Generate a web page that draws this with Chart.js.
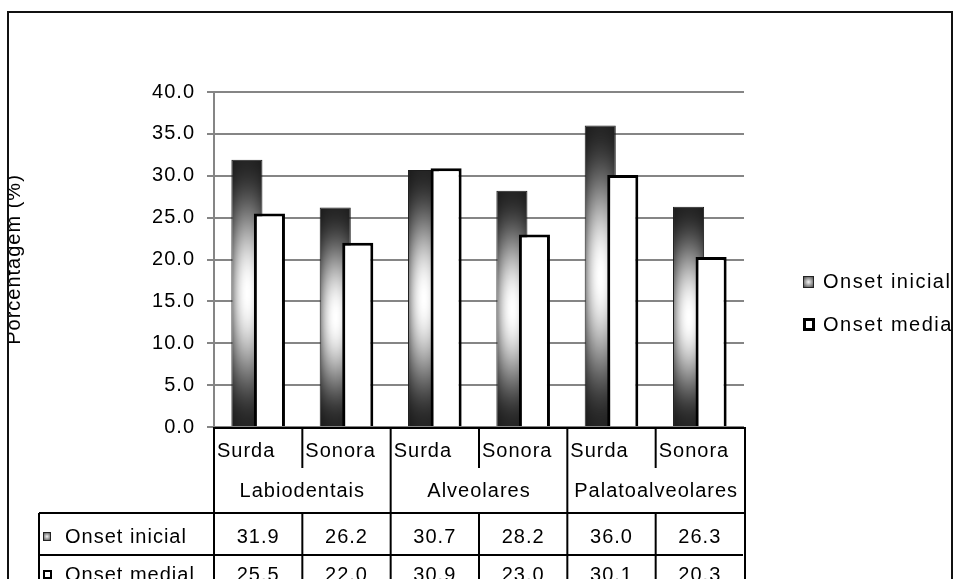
<!DOCTYPE html>
<html>
<head>
<meta charset="utf-8">
<script src="https://cdn.jsdelivr.net/npm/chart.js@4/dist/chart.umd.min.js"></script>
<style>
  html, body { margin: 0; padding: 0; background: #fff; overflow: hidden; }
  #frame {
    position: absolute; left: 7px; top: 11px;
    width: 942px; height: 620px;
    border: 2px solid #111; overflow: hidden; background: #fff;
  }
  #chart { position: absolute; left: -9px; top: -13px; }
</style>
</head>
<body>
<div id="frame"><canvas id="chart" width="954" height="579"></canvas></div>
<script>
// Categories (consonant voicing) grouped by place of articulation
const categories = ['Surda', 'Sonora', 'Surda', 'Sonora', 'Surda', 'Sonora'];
const groupLabels = ['Labiodentais', 'Alveolares', 'Palatoalveolares'];
const seriesNames = ['Onset inicial', 'Onset medial'];
const onsetInicial = [31.9, 26.2, 30.7, 28.2, 36.0, 26.3];
const onsetMedial = [25.5, 22.0, 30.9, 23.0, 30.1, 20.3];
const yTickValues = [0, 5, 10, 15, 20, 25, 30, 35, 40];
const yTitle = 'Porcentagem (%)';

const FONT = '"Liberation Sans", Arial, sans-serif';

// Metallic shading: dark at top/bottom and at the sides, bright in the middle
function shadeCanvas(w, h) {
  const c = document.createElement('canvas');
  c.width = w; c.height = h;
  const g = c.getContext('2d');
  const img = g.createImageData(w, h);
  for (let j = 0; j < h; j++) {
    const s = (j + 0.5) / h;
    const v = 0.08 + 0.92 * Math.pow(Math.sin(Math.PI * s), 1.8);
    for (let i = 0; i < w; i++) {
      const u = (i + 0.5) / w;
      const hz = 0.35 + 0.65 * Math.pow(Math.sin(Math.PI * u), 0.6);
      const val = Math.round(18 + 237 * v * hz);
      const k = (j * w + i) * 4;
      img.data[k] = img.data[k + 1] = img.data[k + 2] = val;
      img.data[k + 3] = 255;
    }
  }
  g.putImageData(img, 0, 0);
  return c;
}

// Gives each "Onset inicial" bar its own shaded fill, sized to the bar
const barShading = {
  id: 'barShading',
  afterDatasetsUpdate(chart) {
    chart.getDatasetMeta(0).data.forEach(bar => {
      const p = bar.getProps(['x', 'y', 'base', 'width'], true);
      const left = p.x - p.width / 2;
      const top = Math.min(p.y, p.base);
      const w = Math.max(1, Math.ceil(p.width));
      const h = Math.max(1, Math.ceil(Math.abs(p.base - p.y)));
      const pat = chart.ctx.createPattern(shadeCanvas(w, h), 'no-repeat');
      pat.setTransform(new DOMMatrix([1, 0, 0, 1, left, top]));
      bar.options = Object.assign({}, bar.options, { backgroundColor: pat, $shared: false });
    });
  }
};

// Overlapping bars: the white series is painted over the shaded one
const overlapOrder = {
  id: 'overlapOrder',
  beforeDraw(chart) { chart.ctx.letterSpacing = '1px'; },
  beforeDatasetDraw(chart, args) { if (args.index === 1) return false; },
  afterDatasetsDraw(chart) {
    const ctx = chart.ctx;
    ctx.save();
    chart.getDatasetMeta(1).controller.draw();
    ctx.restore();
  }
};

function shadedSwatch(ctx, x, y, w, h) {
  const g = ctx.createRadialGradient(x + w / 2, y + h / 2, 0, x + w / 2, y + h / 2, w * 0.7);
  g.addColorStop(0, '#f4f4f4');
  g.addColorStop(1, '#333');
  ctx.fillStyle = '#222';
  ctx.fillRect(x, y, w, h);
  ctx.fillStyle = g;
  ctx.fillRect(x + 1, y + 1, w - 2, h - 2);
}
function outlineSwatch(ctx, x, y, w, h, b) {
  ctx.fillStyle = '#000';
  ctx.fillRect(x, y, w, h);
  ctx.fillStyle = '#fff';
  ctx.fillRect(x + b, y + b, w - 2 * b, h - 2 * b);
}

// Data table under the plot, plus the legend at the right
const dataTable = {
  id: 'dataTable',
  afterDraw(chart) {
    const { ctx, chartArea: a, scales: { x } } = chart;
    const n = categories.length;
    const centers = categories.map((_, i) => x.getPixelForValue(i));
    const bounds = [a.left];
    for (let i = 0; i < n - 1; i++) bounds.push((centers[i] + centers[i + 1]) / 2);
    bounds.push(a.right + 1);

    const b = a.bottom;
    const rowCat = b + 24, rowGroup = b + 64;
    const sep1 = b + 86, row1 = b + 110, sep2 = b + 128, row2 = b + 148;
    const tableLeft = a.left - 175;
    const bottomEdge = chart.height + 5;

    ctx.save();
    ctx.letterSpacing = '1px';
    ctx.strokeStyle = '#000';
    ctx.lineWidth = 2;
    const line = (x1, y1, x2, y2) => { ctx.beginPath(); ctx.moveTo(x1, y1); ctx.lineTo(x2, y2); ctx.stroke(); };

    line(a.left - 1, b + 1, a.right + 1, b + 1);
    bounds.forEach((bx, i) => {
      const groupEdge = i % 2 === 0;
      line(bx, b, bx, groupEdge ? bottomEdge : b + 41);
      if (!groupEdge) line(bx, sep1, bx, bottomEdge);
    });
    line(tableLeft, sep1, bounds[n], sep1);
    line(tableLeft, sep1, tableLeft, bottomEdge);
    line(tableLeft, sep2, bounds[n] - 2, sep2);

    ctx.fillStyle = '#000';
    ctx.font = '20px ' + FONT;
    ctx.textBaseline = 'middle';
    ctx.textAlign = 'left';
    categories.forEach((c, i) => ctx.fillText(c, bounds[i] + 3, rowCat));
    ctx.textAlign = 'center';
    groupLabels.forEach((g, k) => ctx.fillText(g, (bounds[2 * k] + bounds[2 * k + 2]) / 2, rowGroup));
    onsetInicial.forEach((v, i) => ctx.fillText(v.toFixed(1), centers[i], row1));
    onsetMedial.forEach((v, i) => ctx.fillText(v.toFixed(1), centers[i], row2));

    // row headers
    ctx.textAlign = 'left';
    shadedSwatch(ctx, tableLeft + 4, row1 - 5, 8, 9);
    ctx.fillStyle = '#000';
    ctx.fillText(seriesNames[0], tableLeft + 26, row1);
    outlineSwatch(ctx, tableLeft + 4, row2 - 5, 9, 9, 2);
    ctx.fillStyle = '#000';
    ctx.fillText(seriesNames[1], tableLeft + 26, row2);

    // legend
    ctx.letterSpacing = '1.5px';
    const lx = a.right + 59;
    const ly1 = 282, ly2 = 325;
    shadedSwatch(ctx, lx, ly1 - 6, 11, 12);
    ctx.fillStyle = '#000';
    ctx.fillText(seriesNames[0], lx + 20, ly1);
    outlineSwatch(ctx, lx, ly2 - 7, 12, 13, 3);
    ctx.fillStyle = '#000';
    ctx.fillText(seriesNames[1], lx + 20, ly2);
    ctx.restore();
  }
};

new Chart(document.getElementById('chart'), {
  type: 'bar',
  data: {
    labels: categories,
    datasets: [
      {
        label: seriesNames[0],
        data: onsetInicial,
        backgroundColor: '#777',
        borderColor: '#1c1c1c',
        borderWidth: 1,
        categoryPercentage: 0.51,
        barPercentage: 1.38
      },
      {
        label: seriesNames[1],
        data: onsetMedial,
        backgroundColor: '#fff',
        borderColor: '#000',
        borderWidth: 3,
        categoryPercentage: 0.51,
        barPercentage: 1.38
      }
    ]
  },
  options: {
    responsive: false,
    animation: false,
    events: [],
    devicePixelRatio: 1,
    layout: { padding: { left: 0, top: 92, right: 210, bottom: 152 } },
    plugins: { legend: { display: false }, tooltip: { enabled: false } },
    scales: {
      x: {
        offset: true,
        grid: { display: false },
        border: { display: false },
        ticks: { display: false },
        afterFit: s => { s.height = 0; }
      },
      y: {
        min: 0,
        max: 40,
        afterBuildTicks: s => { s.ticks = yTickValues.map(v => ({ value: v })); },
        afterFit: s => { s.width = 214; },
        ticks: {
          padding: 12,
          color: '#000',
          font: { family: FONT, size: 20 },
          callback: v => Number(v).toFixed(1)
        },
        grid: { color: '#858585', lineWidth: 2, tickLength: 7, drawTicks: true },
        border: { display: true, color: '#858585', width: 2 },
        title: {
          display: true,
          text: yTitle,
          color: '#000',
          font: { family: FONT, size: 20 },
          padding: { top: 2, bottom: 0 }
        }
      }
    }
  },
  plugins: [barShading, overlapOrder, dataTable]
});
</script>
</body>
</html>
